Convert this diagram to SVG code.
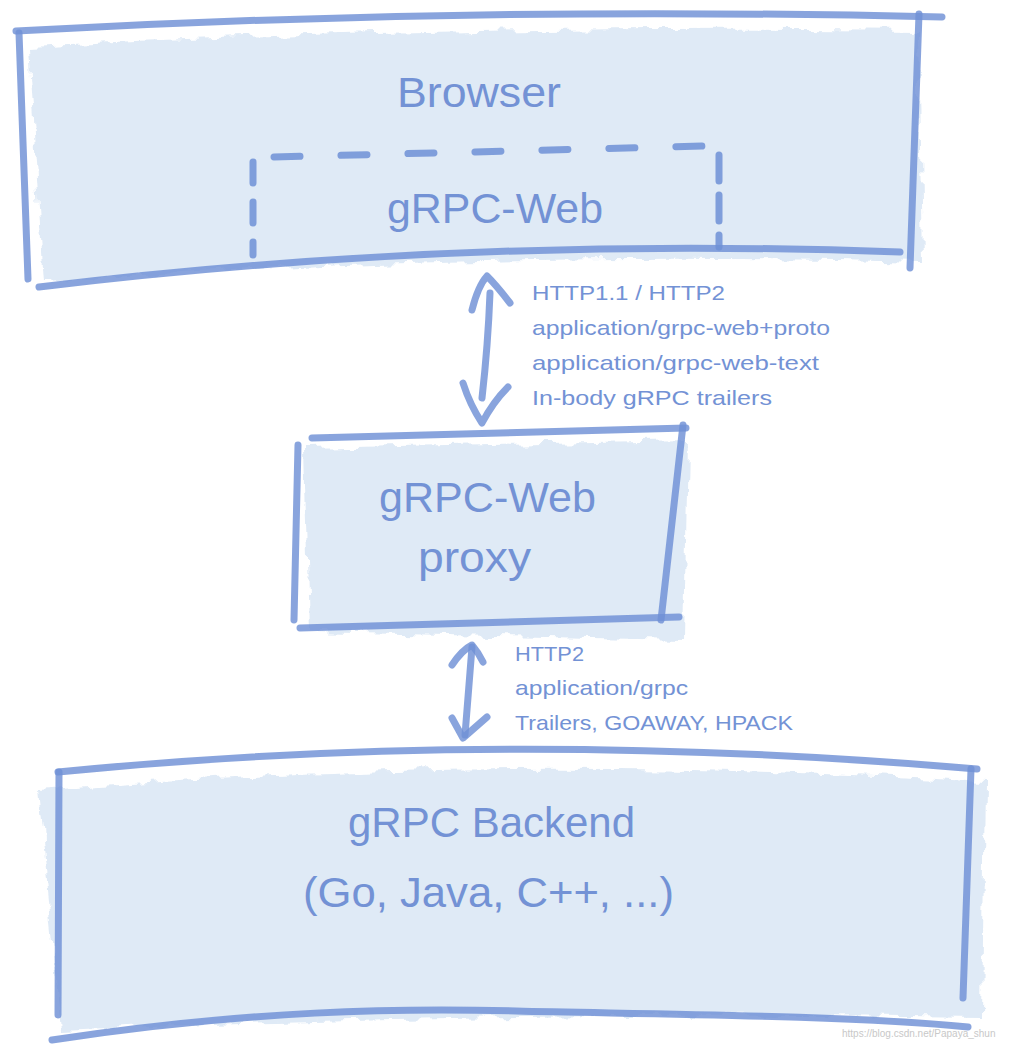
<svg xmlns="http://www.w3.org/2000/svg" width="1013" height="1047" viewBox="0 0 1013 1047">
<style>
.fill{fill:#dfeaf6;filter:url(#rag)}
.ln{fill:none;stroke:#6f90d6;stroke-opacity:.82;stroke-width:7;stroke-linecap:round;stroke-linejoin:round}
.dash{fill:none;stroke:#6f90d6;stroke-opacity:.85;stroke-width:7;stroke-linecap:round}
.big{font-family:"Liberation Sans","DejaVu Sans",sans-serif;font-size:42px;fill:#7392d5}
.sm{font-family:"Liberation Sans","DejaVu Sans",sans-serif;font-size:21px;fill:#7392d5}
.wm{font-family:"Liberation Sans",sans-serif;font-size:10px;fill:#c8c8c8}
</style>
<defs>
<filter id="rag" x="-5%" y="-10%" width="110%" height="120%">
<feTurbulence type="fractalNoise" baseFrequency="0.05" numOctaves="3" seed="4" result="n"/>
<feDisplacementMap in="SourceGraphic" in2="n" scale="14" xChannelSelector="R" yChannelSelector="G"/>
</filter>
</defs>
<g id="browser">
<path class="fill" d="M28,46 Q470,24 918,30 L922,262 Q470,250 44,282 Z"/>
<path class="ln" d="M16,31 Q470,6 942,17"/>
<path class="ln" d="M19,33 L28,279"/>
<path class="ln" d="M919,14 L910,268"/>
<path class="ln" d="M39,287 Q460,236 900,252"/>
<text class="big" x="479" y="107" text-anchor="middle" textLength="164" lengthAdjust="spacingAndGlyphs">Browser</text>
</g>
<g id="grpc-web">
<path class="dash" d="M274,157 L706,146" stroke-dasharray="26 41"/>
<path class="dash" d="M253,162 L253,255" stroke-dasharray="21 19"/>
<path class="dash" d="M719,155 L719,247" stroke-dasharray="26 14"/>
<text class="big" x="495" y="223" text-anchor="middle" textLength="216" lengthAdjust="spacingAndGlyphs">gRPC-Web</text>
</g>
<g id="proxy">
<path class="fill" d="M305,448 L688,440 L684,640 L310,632 Z"/>
<path class="ln" d="M312,438 L686,428"/>
<path class="ln" d="M298,445 L294,620"/>
<path class="ln" d="M683,425 L661,620"/>
<path class="ln" d="M300,628 L679,617"/>
<text class="big" x="379" y="512" textLength="217" lengthAdjust="spacingAndGlyphs">gRPC-Web</text>
<text class="big" x="418" y="572" textLength="113" lengthAdjust="spacingAndGlyphs">proxy</text>
</g>
<g id="backend">
<path class="fill" d="M38,790 Q500,752 985,782 L982,1018 Q500,1010 62,1030 Z"/>
<path class="ln" d="M58,772 Q500,728 977,769"/>
<path class="ln" d="M59,772 L58,1015"/>
<path class="ln" d="M971,769 L963,998"/>
<path class="ln" d="M52,1040 C250,1010 400,1008 516,1011 S850,1015 968,1027"/>
<text class="big" x="348" y="837" textLength="287" lengthAdjust="spacingAndGlyphs">gRPC Backend</text>
<text class="big" x="303" y="907" textLength="371" lengthAdjust="spacingAndGlyphs">(Go, Java, C++, ...)</text>
</g>
<g id="connectors">
<path class="ln" d="M490,293 Q488,345 482,398"/>
<path class="ln" d="M472,310 Q478,286 487,276 Q497,286 510,303"/>
<path class="ln" d="M463,383 Q470,405 482,423 Q493,402 508,387"/>
<path class="ln" d="M472,647 L465,735"/>
<path class="ln" d="M452,665 Q462,650 472,645 Q478,652 483,662"/>
<path class="ln" d="M452,718 L463,738 L487,717"/>
</g>
<g id="labels">
<text class="sm" x="532" y="300" textLength="193" lengthAdjust="spacingAndGlyphs">HTTP1.1 / HTTP2</text>
<text class="sm" x="532" y="335" textLength="298" lengthAdjust="spacingAndGlyphs">application/grpc-web+proto</text>
<text class="sm" x="532" y="370" textLength="287" lengthAdjust="spacingAndGlyphs">application/grpc-web-text</text>
<text class="sm" x="532" y="405" textLength="240" lengthAdjust="spacingAndGlyphs">In-body gRPC trailers</text>
<text class="sm" x="515" y="661" textLength="69" lengthAdjust="spacingAndGlyphs">HTTP2</text>
<text class="sm" x="515" y="695" textLength="173" lengthAdjust="spacingAndGlyphs">application/grpc</text>
<text class="sm" x="515" y="730" textLength="278" lengthAdjust="spacingAndGlyphs">Trailers, GOAWAY, HPACK</text>
</g>
<text class="wm" x="842" y="1037">https://blog.csdn.net/Papaya_shun</text>
</svg>
